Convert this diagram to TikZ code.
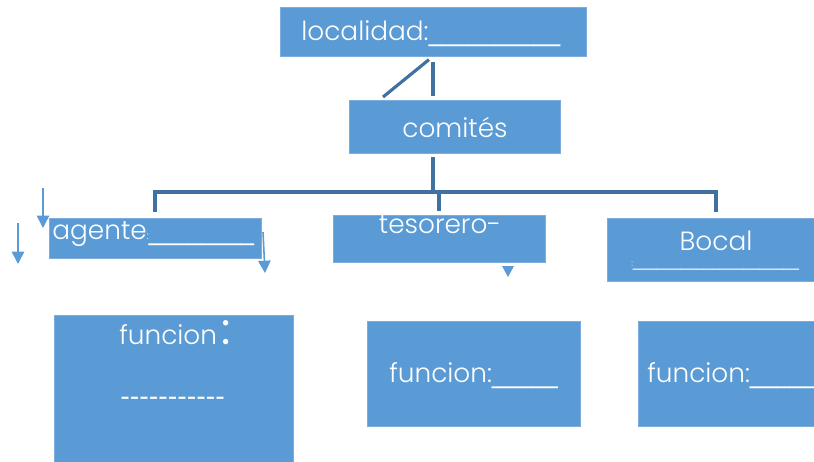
\documentclass[tikz,border=0pt]{standalone}
\usepackage{fontspec}
\setmainfont{Poppins Light}
\newfontfamily\rayas{DejaVu Sans}
\newfontfamily\gruesa{Poppins}
\usetikzlibrary{arrows.meta}
\definecolor{boxblue}{RGB}{91,155,213}
\definecolor{edgeblue}{RGB}{125,173,222}
\definecolor{linkblue}{RGB}{65,113,160}
\newcommand{\linea}[1]{{\rayas\foreach \i in {1,...,#1}{\_}}}

\begin{document}
\begin{tikzpicture}[x=0.02cm, y=-0.02cm,
  caja/.style={fill=boxblue, draw=edgeblue, line width=0.4pt, inner sep=0pt},
  txt/.style={text=white, font=\fontsize{15}{18}\selectfont, inner sep=0pt},
  txtsmall/.style={text=white, font=\fontsize{9}{10}\selectfont, inner sep=0pt},
  enlace/.style={draw=linkblue, line width=1.8pt},
  flecha/.style={draw=boxblue, line width=0.9pt, -{Triangle[width=7pt,length=7pt]}}]
\useasboundingbox (0,0) rectangle (814,461);

% cajas
\node[caja, minimum width=6.12cm, minimum height=0.98cm] (loc) at (433,31.5) {};
\node[caja, minimum width=4.22cm, minimum height=1.06cm] (com) at (454.5,126.5) {};
\node[caja, minimum width=4.24cm, minimum height=0.8cm] (agente) at (155,238) {};
\node[caja, minimum width=4.24cm, minimum height=0.94cm] (tes) at (439,238.5) {};
\node[caja, minimum width=4.36cm, minimum height=1.26cm] (bocal) at (716,249.5) {};
\node[caja, minimum width=4.78cm, minimum height=3.0cm] (fun1) at (173.5,390) {};
\node[caja, minimum width=4.26cm, minimum height=2.1cm] (fun2) at (473.5,373.5) {};
\node[caja, minimum width=4.26cm, minimum height=2.1cm] (fun3) at (744.5,373.5) {};

% textos
\node[txt, anchor=base west] (locT) at (301,40) {localidad:\linea{10}};
\node[txt, anchor=base] (comT) at (455,137) {comités};
\node[txt, anchor=base west] (agenteT) at (52,239) {agente{\fontsize{6}{6}\selectfont:}\linea{8}};
\node[txt, anchor=base] (tesT) at (440,233) {tesorero-};
\node[txt, anchor=base] (bocalT) at (716,250) {Bocal};
\node[txtsmall, anchor=base west] (bocalL) at (631,266) {{\fontsize{5}{5}\selectfont:}\linea{21}};
\node[txt, anchor=base west] (fun1T) at (119,344) {funcion\,{\gruesa\fontsize{25}{25}\selectfont:}};
\node[txt, anchor=base west] (fun1L) at (120,405) {\rayas -{}-{}-{}-{}-{}-{}-{}-{}-{}-{}-};
\node[txt, anchor=base west] (fun2T) at (389,382) {funcion:\linea{5}};
\node[txt, anchor=base west] (fun3T) at (647,382) {funcion:\linea{5}};

% enlaces
\coordinate (diag) at (383,97);
\coordinate (bus) at (433,192);
\draw[enlace, shorten <=3pt, shorten >=2pt] (loc.south) -- (loc.south |- com.north);
\draw[enlace, shorten <=3pt] (loc.south) -- (diag);
\draw[enlace, shorten <=2pt] (com.south -| loc.south) -- (bus);
\draw[enlace, shorten <=3pt, shorten >=3pt] (agente.north) |- (bus) -| (bocal.north);
\draw[enlace, shorten <=2pt] (tes.north) -- (tes.north |- bus);

% flechas sueltas
\coordinate (f1a) at (43,188);
\coordinate (f1b) at (43,228);
\coordinate (f2a) at (18,223);
\coordinate (f2b) at (18,264);
\coordinate (f3a) at (263,232);
\coordinate (f3b) at (265,273);
\draw[flecha] (f1a) -- (f1b);
\draw[flecha] (f2a) -- (f2b);
\draw[flecha] (f3a) -- (f3b);
\fill[boxblue] (502,266) -- (514,266) -- (508,277) -- cycle;
\end{tikzpicture}
\end{document}
